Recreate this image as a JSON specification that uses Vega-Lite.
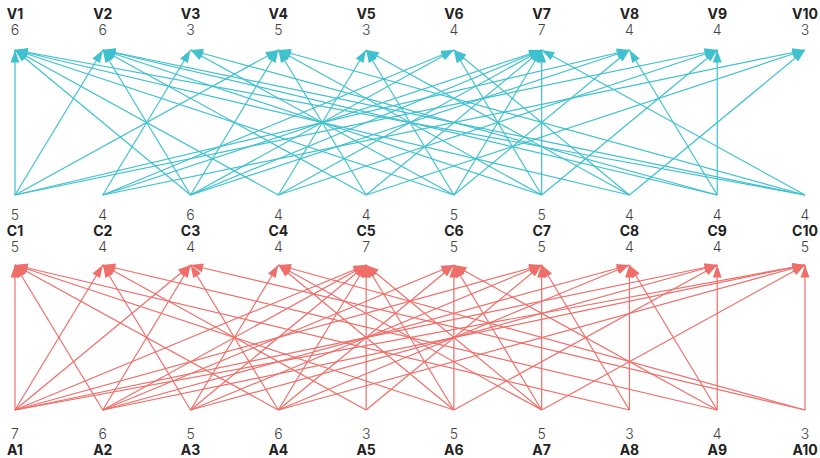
{
  "$schema": "https://vega.github.io/schema/vega-lite/v6.json",
  "width": 820,
  "height": 458,
  "autosize": {"type": "fit", "contains": "padding"},
  "padding": 0,
  "background": "white",
  "config": {"view": {"stroke": null}},
  "datasets": {
    "nodes": [
      {"i": 1, "v": "V1", "vd": 6, "c": "C1", "co": 5, "ci": 5, "a": "A1", "ad": 7},
      {"i": 2, "v": "V2", "vd": 6, "c": "C2", "co": 4, "ci": 4, "a": "A2", "ad": 6},
      {"i": 3, "v": "V3", "vd": 3, "c": "C3", "co": 6, "ci": 4, "a": "A3", "ad": 5},
      {"i": 4, "v": "V4", "vd": 5, "c": "C4", "co": 4, "ci": 4, "a": "A4", "ad": 6},
      {"i": 5, "v": "V5", "vd": 3, "c": "C5", "co": 4, "ci": 7, "a": "A5", "ad": 3},
      {"i": 6, "v": "V6", "vd": 4, "c": "C6", "co": 5, "ci": 5, "a": "A6", "ad": 5},
      {"i": 7, "v": "V7", "vd": 7, "c": "C7", "co": 5, "ci": 5, "a": "A7", "ad": 5},
      {"i": 8, "v": "V8", "vd": 4, "c": "C8", "co": 4, "ci": 4, "a": "A8", "ad": 3},
      {"i": 9, "v": "V9", "vd": 4, "c": "C9", "co": 4, "ci": 4, "a": "A9", "ad": 4},
      {"i": 10, "v": "V10", "vd": 3, "c": "C10", "co": 4, "ci": 5, "a": "A10", "ad": 3}
    ],
    "edges": [
      {"p": "top", "s": 1, "t": 1}, {"p": "top", "s": 1, "t": 2}, {"p": "top", "s": 1, "t": 4}, {"p": "top", "s": 1, "t": 8}, {"p": "top", "s": 1, "t": 9},
      {"p": "top", "s": 2, "t": 3}, {"p": "top", "s": 2, "t": 6}, {"p": "top", "s": 2, "t": 7}, {"p": "top", "s": 2, "t": 10},
      {"p": "top", "s": 3, "t": 1}, {"p": "top", "s": 3, "t": 2}, {"p": "top", "s": 3, "t": 4}, {"p": "top", "s": 3, "t": 6}, {"p": "top", "s": 3, "t": 7}, {"p": "top", "s": 3, "t": 8},
      {"p": "top", "s": 4, "t": 1}, {"p": "top", "s": 4, "t": 5}, {"p": "top", "s": 4, "t": 7}, {"p": "top", "s": 4, "t": 9},
      {"p": "top", "s": 5, "t": 2}, {"p": "top", "s": 5, "t": 4}, {"p": "top", "s": 5, "t": 7}, {"p": "top", "s": 5, "t": 10},
      {"p": "top", "s": 6, "t": 1}, {"p": "top", "s": 6, "t": 3}, {"p": "top", "s": 6, "t": 5}, {"p": "top", "s": 6, "t": 7}, {"p": "top", "s": 6, "t": 8},
      {"p": "top", "s": 7, "t": 2}, {"p": "top", "s": 7, "t": 4}, {"p": "top", "s": 7, "t": 6}, {"p": "top", "s": 7, "t": 7}, {"p": "top", "s": 7, "t": 9},
      {"p": "top", "s": 8, "t": 1}, {"p": "top", "s": 8, "t": 5}, {"p": "top", "s": 8, "t": 6}, {"p": "top", "s": 8, "t": 10},
      {"p": "top", "s": 9, "t": 2}, {"p": "top", "s": 9, "t": 3}, {"p": "top", "s": 9, "t": 8}, {"p": "top", "s": 9, "t": 9},
      {"p": "top", "s": 10, "t": 1}, {"p": "top", "s": 10, "t": 2}, {"p": "top", "s": 10, "t": 4}, {"p": "top", "s": 10, "t": 7},
      {"p": "bot", "s": 1, "t": 1}, {"p": "bot", "s": 1, "t": 2}, {"p": "bot", "s": 1, "t": 3}, {"p": "bot", "s": 1, "t": 5}, {"p": "bot", "s": 1, "t": 7}, {"p": "bot", "s": 1, "t": 9}, {"p": "bot", "s": 1, "t": 10},
      {"p": "bot", "s": 2, "t": 1}, {"p": "bot", "s": 2, "t": 3}, {"p": "bot", "s": 2, "t": 5}, {"p": "bot", "s": 2, "t": 6}, {"p": "bot", "s": 2, "t": 8}, {"p": "bot", "s": 2, "t": 10},
      {"p": "bot", "s": 3, "t": 2}, {"p": "bot", "s": 3, "t": 4}, {"p": "bot", "s": 3, "t": 5}, {"p": "bot", "s": 3, "t": 7}, {"p": "bot", "s": 3, "t": 9},
      {"p": "bot", "s": 4, "t": 1}, {"p": "bot", "s": 4, "t": 3}, {"p": "bot", "s": 4, "t": 5}, {"p": "bot", "s": 4, "t": 6}, {"p": "bot", "s": 4, "t": 8}, {"p": "bot", "s": 4, "t": 10},
      {"p": "bot", "s": 5, "t": 2}, {"p": "bot", "s": 5, "t": 5}, {"p": "bot", "s": 5, "t": 7},
      {"p": "bot", "s": 6, "t": 1}, {"p": "bot", "s": 6, "t": 4}, {"p": "bot", "s": 6, "t": 5}, {"p": "bot", "s": 6, "t": 6}, {"p": "bot", "s": 6, "t": 9},
      {"p": "bot", "s": 7, "t": 4}, {"p": "bot", "s": 7, "t": 5}, {"p": "bot", "s": 7, "t": 6}, {"p": "bot", "s": 7, "t": 7}, {"p": "bot", "s": 7, "t": 10},
      {"p": "bot", "s": 8, "t": 1}, {"p": "bot", "s": 8, "t": 7}, {"p": "bot", "s": 8, "t": 8},
      {"p": "bot", "s": 9, "t": 2}, {"p": "bot", "s": 9, "t": 6}, {"p": "bot", "s": 9, "t": 8}, {"p": "bot", "s": 9, "t": 9},
      {"p": "bot", "s": 10, "t": 3}, {"p": "bot", "s": 10, "t": 4}, {"p": "bot", "s": 10, "t": 10}
    ]
  },
  "layer": [
    {
      "data": {"name": "edges"},
      "transform": [{"filter": "datum.p == 'top'"}],
      "mark": {"type": "rule", "color": "#3fc1cf", "strokeWidth": 1.2},
      "encoding": {
        "x": {"field": "s", "type": "quantitative", "scale": {"domain": [0.8291, 10.1709], "nice": false, "zero": false}, "axis": null},
        "x2": {"field": "t"},
        "y": {"datum": 195, "type": "quantitative", "scale": {"domain": [0, 458], "reverse": true, "nice": false, "zero": false}, "axis": null},
        "y2": {"datum": 50}
      }
    },
    {
      "data": {"name": "edges"},
      "transform": [{"filter": "datum.p == 'bot'"}],
      "mark": {"type": "rule", "color": "#ef6e69", "strokeWidth": 1.2},
      "encoding": {
        "x": {"field": "s", "type": "quantitative"},
        "x2": {"field": "t"},
        "y": {"datum": 410, "type": "quantitative"},
        "y2": {"datum": 265}
      }
    },
    {
      "data": {"name": "edges"},
      "transform": [
        {"filter": "datum.p == 'top'"},
        {"calculate": "atan2((datum.t - datum.s) * 87.78, 145) * 180 / PI", "as": "ang"}
      ],
      "mark": {"type": "point", "filled": true, "opacity": 1, "shape": "M0,0L0.85,2.4L-0.85,2.4Z", "size": 110, "color": "#3fc1cf"},
      "encoding": {
        "x": {"field": "t", "type": "quantitative"},
        "y": {"datum": 50, "type": "quantitative"},
        "angle": {"field": "ang", "type": "quantitative", "scale": null}
      }
    },
    {
      "data": {"name": "edges"},
      "transform": [
        {"filter": "datum.p == 'bot'"},
        {"calculate": "atan2((datum.t - datum.s) * 87.78, 145) * 180 / PI", "as": "ang"}
      ],
      "mark": {"type": "point", "filled": true, "opacity": 1, "shape": "M0,0L0.85,2.4L-0.85,2.4Z", "size": 110, "color": "#ef6e69"},
      "encoding": {
        "x": {"field": "t", "type": "quantitative"},
        "y": {"datum": 265, "type": "quantitative"},
        "angle": {"field": "ang", "type": "quantitative", "scale": null}
      }
    },
    {
      "data": {"name": "nodes"},
      "mark": {"type": "text", "font": "Inter", "fontSize": 14, "fontWeight": "bold", "color": "#222222"},
      "encoding": {"x": {"field": "i", "type": "quantitative"}, "y": {"datum": 15, "type": "quantitative"}, "text": {"field": "v"}}
    },
    {
      "data": {"name": "nodes"},
      "mark": {"type": "text", "font": "Inter", "fontSize": 14, "fontWeight": 300, "color": "#444444"},
      "encoding": {"x": {"field": "i", "type": "quantitative"}, "y": {"datum": 31, "type": "quantitative"}, "text": {"field": "vd"}}
    },
    {
      "data": {"name": "nodes"},
      "mark": {"type": "text", "font": "Inter", "fontSize": 14, "fontWeight": 300, "color": "#444444"},
      "encoding": {"x": {"field": "i", "type": "quantitative"}, "y": {"datum": 216, "type": "quantitative"}, "text": {"field": "co"}}
    },
    {
      "data": {"name": "nodes"},
      "mark": {"type": "text", "font": "Inter", "fontSize": 14, "fontWeight": "bold", "color": "#222222"},
      "encoding": {"x": {"field": "i", "type": "quantitative"}, "y": {"datum": 232, "type": "quantitative"}, "text": {"field": "c"}}
    },
    {
      "data": {"name": "nodes"},
      "mark": {"type": "text", "font": "Inter", "fontSize": 14, "fontWeight": 300, "color": "#444444"},
      "encoding": {"x": {"field": "i", "type": "quantitative"}, "y": {"datum": 248, "type": "quantitative"}, "text": {"field": "ci"}}
    },
    {
      "data": {"name": "nodes"},
      "mark": {"type": "text", "font": "Inter", "fontSize": 14, "fontWeight": 300, "color": "#444444"},
      "encoding": {"x": {"field": "i", "type": "quantitative"}, "y": {"datum": 435, "type": "quantitative"}, "text": {"field": "ad"}}
    },
    {
      "data": {"name": "nodes"},
      "mark": {"type": "text", "font": "Inter", "fontSize": 14, "fontWeight": "bold", "color": "#222222"},
      "encoding": {"x": {"field": "i", "type": "quantitative"}, "y": {"datum": 451, "type": "quantitative"}, "text": {"field": "a"}}
    }
  ]
}
